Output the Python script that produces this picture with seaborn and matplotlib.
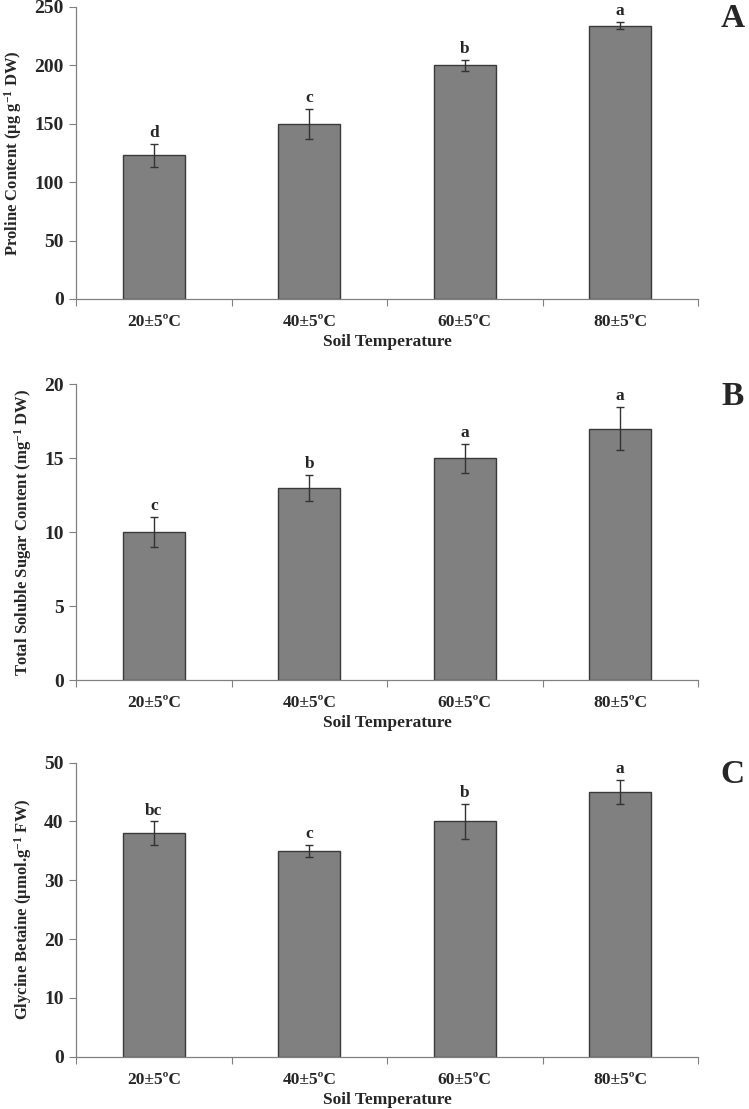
import numpy as np
import pandas as pd
import seaborn as sns
import matplotlib.pyplot as plt

temps = ['20±5ºC', '40±5ºC', '60±5ºC', '80±5ºC']

proline = [123, 150, 200, 234]
proline_err = [10, 13, 4.5, 3]
proline_letters = ['d', 'c', 'b', 'a']

sugar = [10, 13, 15, 17]
sugar_err = [1, 0.9, 1, 1.45]
sugar_letters = ['c', 'b', 'a', 'a']

betaine = [38, 35, 40, 45]
betaine_err = [2, 1, 3, 2]
betaine_letters = ['bc', 'c', 'b', 'a']

sns.set_theme(style='white')
plt.rcParams['font.family'] = ['Liberation Serif', 'DejaVu Serif']
plt.rcParams['font.weight'] = 'bold'
plt.rcParams['mathtext.fontset'] = 'custom'
plt.rcParams['mathtext.rm'] = 'Liberation Serif:bold'
plt.rcParams['mathtext.bf'] = 'Liberation Serif:bold'
plt.rcParams['mathtext.it'] = 'Liberation Serif:bold'


def draw_panel(fig, rect, values, errs, letters, ylabel, ymax, ystep, tag):
    """One bar panel with error bars and significance letters"""
    ax = fig.add_axes(rect)
    df = pd.DataFrame({'Temp': temps, 'Value': values})
    sns.barplot(data=df, x='Temp', y='Value', ax=ax, color='#808080',
                saturation=1, width=0.4, edgecolor='#3a3a3a', linewidth=1.0,
                errorbar=None)
    pos = np.arange(len(temps))
    ax.errorbar(pos, values, yerr=errs, fmt='none', ecolor='#333333',
                elinewidth=1.0, capsize=3, capthick=1.0)
    for x, v, e, lab in zip(pos, values, errs, letters):
        ax.text(x, v + e + ymax * 0.01, lab, ha='center', va='bottom',
                fontsize=12.5, fontweight='bold')

    ax.set_xlim(-0.5, len(temps) - 0.5)
    ax.set_ylim(0, ymax)
    yt = np.arange(0, ymax + 0.001, ystep)
    ax.set_yticks(yt)
    ax.set_yticklabels([f'{int(t)}' for t in yt], fontsize=14, fontweight='bold')

    # category boundaries carry the tick marks, labels sit in the middle
    ax.set_xticks(np.arange(-0.5, len(temps), 1.0))
    ax.set_xticklabels([])
    ax.set_xticks(pos, minor=True)
    ax.set_xticklabels(temps, minor=True, fontsize=12.5, fontweight='bold')
    ax.tick_params(axis='x', which='major', direction='out', length=5,
                   width=0.8, color='#808080', bottom=True)
    ax.tick_params(axis='x', which='minor', length=0, pad=11, bottom=True)
    ax.tick_params(axis='y', direction='out', length=5, width=0.8,
                   color='#808080', left=True, pad=4)

    sns.despine(ax=ax)
    for s in ['left', 'bottom']:
        ax.spines[s].set_color('#808080')
        ax.spines[s].set_linewidth(0.9)

    ax.set_xlabel('Soil Temperature', fontsize=12.5, fontweight='bold', labelpad=3)
    ax.set_ylabel(ylabel, fontsize=12, fontweight='bold', labelpad=7)
    ax.text(1.055, 0.96, tag, transform=ax.transAxes, fontsize=24,
            fontweight='bold', ha='center', va='center')
    return ax


fig = plt.figure(figsize=(7.49, 11.09), dpi=100)

draw_panel(fig, [0.1015, 0.7304, 0.8304, 0.2633], proline, proline_err,
           proline_letters, r'Proline Content (µg g$^{-1}$ DW)', 250, 50, 'A')
draw_panel(fig, [0.1015, 0.3868, 0.8304, 0.2666], sugar, sugar_err,
           sugar_letters, r'Total Soluble Sugar Content (mg$^{-1}$ DW)', 20, 5, 'B')
draw_panel(fig, [0.1015, 0.0472, 0.8304, 0.2651], betaine, betaine_err,
           betaine_letters, r'Glycine Betaine (µmol.g$^{-1}$ FW)', 50, 10, 'C')

fig.savefig('out.png', dpi=100)
